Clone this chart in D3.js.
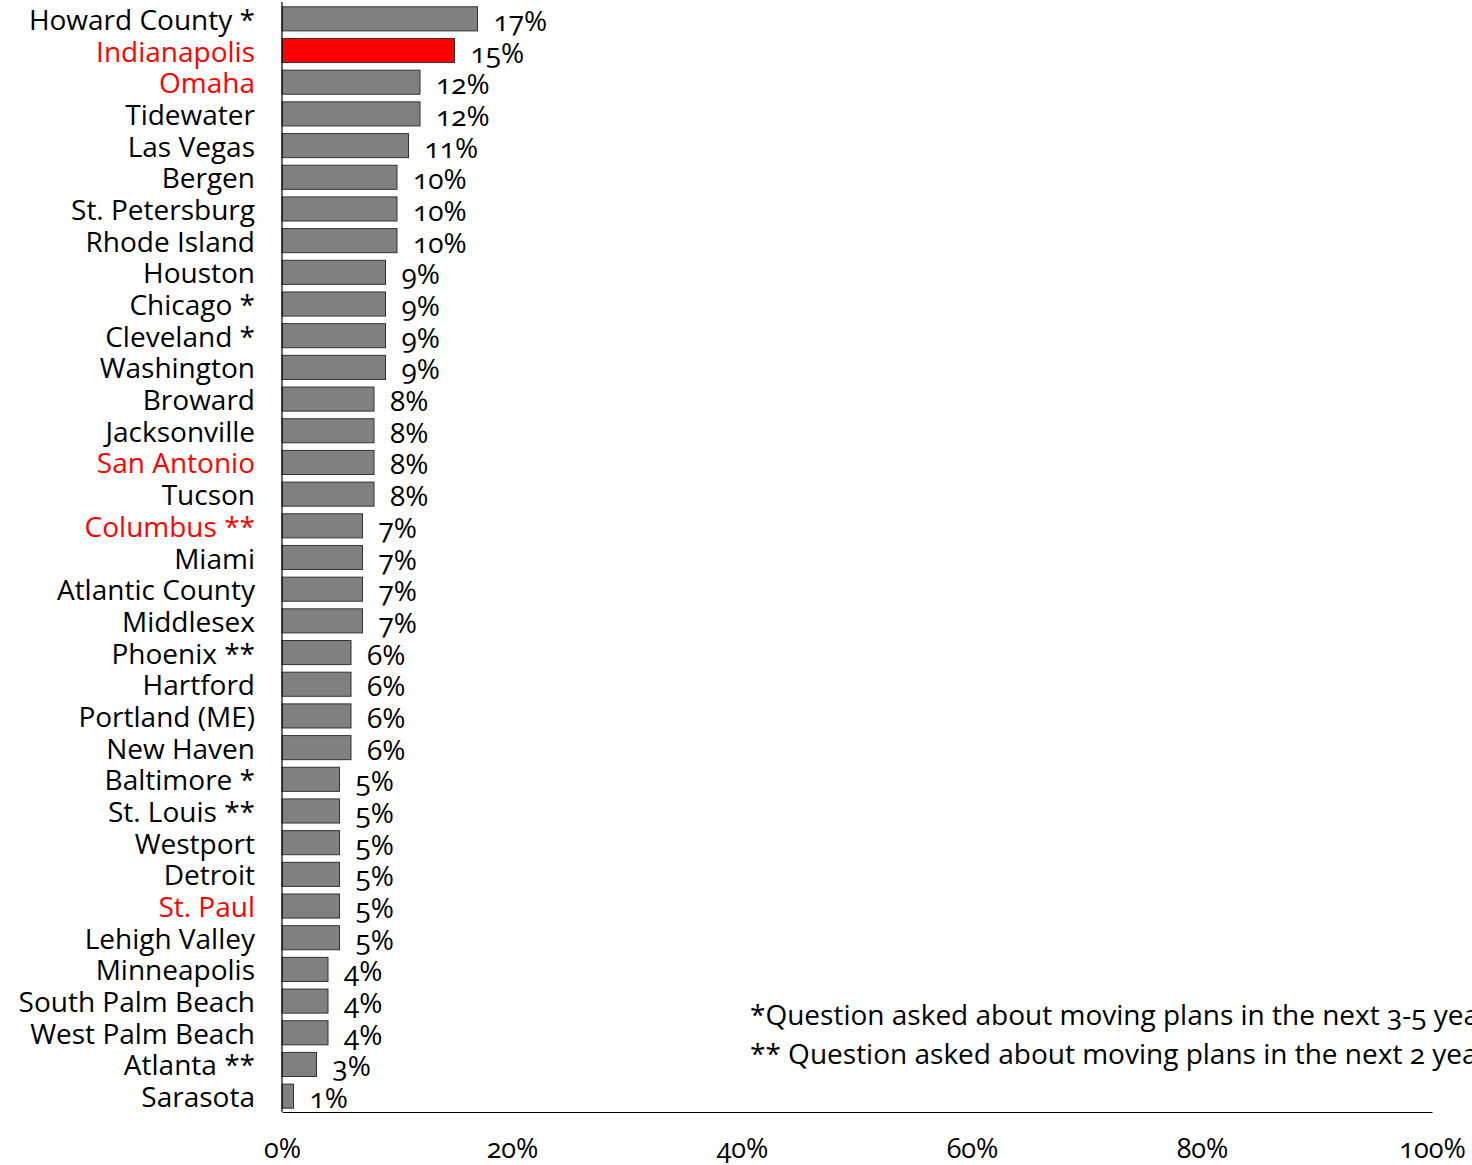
<!DOCTYPE html>
<html><head><meta charset="utf-8">
<script src="https://cdn.jsdelivr.net/npm/d3@7"></script>
<style>body{margin:0;background:#fff;} svg{display:block;} text{font-variant-numeric: oldstyle-nums; font-feature-settings: "onum" 1;}</style>
</head><body>
<svg id="chart" width="1472" height="1165"></svg>
<script>
const categories = ["Howard County *","Indianapolis","Omaha","Tidewater","Las Vegas","Bergen","St. Petersburg","Rhode Island","Houston","Chicago *","Cleveland *","Washington","Broward","Jacksonville","San Antonio","Tucson","Columbus **","Miami","Atlantic County","Middlesex","Phoenix **","Hartford","Portland (ME)","New Haven","Baltimore *","St. Louis **","Westport","Detroit","St. Paul","Lehigh Valley","Minneapolis","South Palm Beach","West Palm Beach","Atlanta **","Sarasota"];
const values = [17,15,12,12,11,10,10,10,9,9,9,9,8,8,8,8,7,7,7,7,6,6,6,6,5,5,5,5,5,5,4,4,4,3,1];
const redLabels = ["Indianapolis","Omaha","San Antonio","Columbus **","St. Paul"];
const redBars = ["Indianapolis"];
const xTicks = [0,20,40,60,80,100];
const footnotes = ["*Question asked about moving plans in the next 3-5 years","** Question asked about moving plans in the next 2 years"];

const FONT = "'Open Sans', Lato, sans-serif";
const FS = 28;
const svg = d3.select("#chart");
const x = d3.scaleLinear().domain([0,100]).range([282,1432]);
const y = d3.scaleBand().domain(categories).range([3,1112]).paddingInner(0.24).paddingOuter(0.12);

// bars
svg.append("g").selectAll("rect").data(categories).join("rect")
  .attr("x", x(0))
  .attr("y", d => y(d))
  .attr("width", (d,i) => x(values[i]) - x(0))
  .attr("height", y.bandwidth())
  .attr("fill", d => redBars.includes(d) ? "#ff0000" : "#808080")
  .attr("stroke", "#333")
  .attr("stroke-width", 1);

// value labels
svg.append("g").selectAll("text").data(categories).join("text")
  .attr("x", (d,i) => x(values[i]) + 16)
  .attr("y", d => y(d) + y.bandwidth()/2 + 12)
  .attr("font-family", FONT).attr("font-size", FS).attr("fill", "#000")
  .text((d,i) => values[i] + "%");

// category labels
svg.append("g").selectAll("text").data(categories).join("text")
  .attr("x", 255)
  .attr("y", d => y(d) + y.bandwidth()/2 + 11)
  .attr("text-anchor", "end")
  .attr("font-family", FONT).attr("font-size", FS)
  .attr("fill", d => redLabels.includes(d) ? "#ff0000" : "#000")
  .text(d => d);

// axes lines
svg.append("line").attr("x1", x(0)).attr("x2", x(0)).attr("y1", 2).attr("y2", 1112)
  .attr("stroke", "#000").attr("stroke-width", 1.2);
const xAxis = d3.axisBottom(x).tickValues(xTicks).tickSize(0).tickPadding(27).tickFormat(d => d + "%");
const gx = svg.append("g").attr("transform", "translate(0,1112)").call(xAxis);
gx.select(".domain").attr("stroke", "#000").attr("stroke-width", 1.2);
gx.selectAll("text").attr("font-family", FONT).attr("font-size", 27).attr("fill", "#000");

// footnotes
svg.append("g").selectAll("text").data(footnotes).join("text")
  .attr("x", 750).attr("y", (d,i) => 1025 + i*39)
  .attr("font-family", FONT).attr("font-size", FS).attr("fill", "#000")
  .text(d => d);
</script>
</body></html>
